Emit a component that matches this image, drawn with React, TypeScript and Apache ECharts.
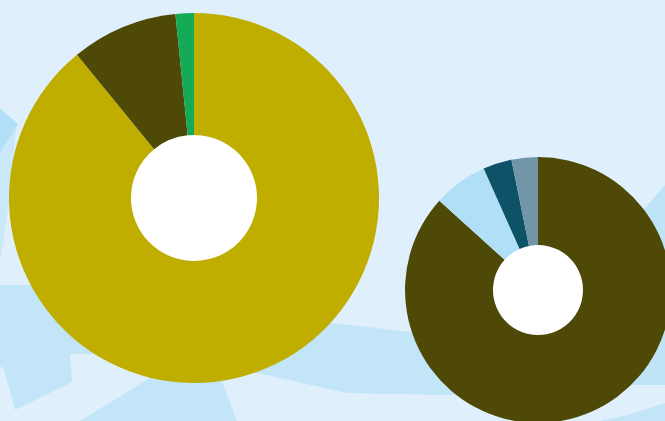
import React, { useEffect, useRef } from "react";
import * as echarts from "echarts";

const leftNames = ["A", "B", "C"];
const leftValues = [89.1, 9.3, 1.6];
const leftColors = ["#bfae00", "#4e4907", "#14aa56"];

const rightNames = ["A", "B", "C", "D"];
const rightValues = [86.7, 6.6, 3.5, 3.2];
const rightColors = ["#4e4907", "#b0dff7", "#0e5268", "#7296a8"];

const BG = "#dff0fc";
const SHAPE = "#c2e5f8";

export default function App() {
  const ref = useRef<HTMLDivElement>(null);
  useEffect(() => {
    if (!ref.current) return;
    const chart = echarts.init(ref.current, undefined, { renderer: "svg" });
    const poly = (points: number[][], fill: string) => ({
      type: "polygon",
      silent: true,
      z: -10,
      shape: { points },
      style: { fill },
    });
    chart.setOption({
      animation: false,
      backgroundColor: BG,
      graphic: [
        poly([[0, 108], [18, 124], [0, 158]], "#b3e0f8"),
        poly([[0, 152], [16, 128], [10, 195], [0, 262]], "#c9e8f9"),
        poly(
          [[0, 285], [260, 285], [260, 354], [70, 354], [72, 382], [15, 410], [3, 366], [0, 368]],
          SHAPE
        ),
        poly(
          [[80, 421], [150, 378], [200, 360], [250, 330], [333, 323], [410, 332], [600, 360], [610, 395], [440, 395], [347, 393], [253, 372], [222, 382], [237, 421]],
          SHAPE
        ),
        poly([[630, 225], [665, 185], [665, 385], [630, 385]], "#bfe4f8"),
        poly([[600, 421], [628, 415], [665, 403], [665, 421]], SHAPE),
      ],
      series: [
        {
          type: "pie",
          center: [194, 198],
          radius: [0, 64],
          silent: true,
          z: 1,
          label: { show: false },
          labelLine: { show: false },
          data: [{ value: 1, itemStyle: { color: "#ffffff" } }],
        },
        {
          type: "pie",
          center: [194, 198],
          radius: [63, 185],
          startAngle: 90,
          clockwise: true,
          z: 2,
          label: { show: false },
          labelLine: { show: false },
          itemStyle: { borderWidth: 0 },
          data: leftValues.map((v, i) => ({
            name: leftNames[i],
            value: v,
            itemStyle: { color: leftColors[i] },
          })),
        },
        {
          type: "pie",
          center: [538, 290],
          radius: [0, 46],
          silent: true,
          z: 1,
          label: { show: false },
          labelLine: { show: false },
          data: [{ value: 1, itemStyle: { color: "#ffffff" } }],
        },
        {
          type: "pie",
          center: [538, 290],
          radius: [45, 133],
          startAngle: 90,
          clockwise: true,
          z: 2,
          label: { show: false },
          labelLine: { show: false },
          itemStyle: { borderWidth: 0 },
          data: rightValues.map((v, i) => ({
            name: rightNames[i] + "2",
            value: v,
            itemStyle: { color: rightColors[i] },
          })),
        },
      ],
    });
    return () => chart.dispose();
  }, []);
  return (
    <div
      ref={ref}
      style={{ position: "absolute", left: 0, top: 0, width: 665, height: 421 }}
    />
  );
}
